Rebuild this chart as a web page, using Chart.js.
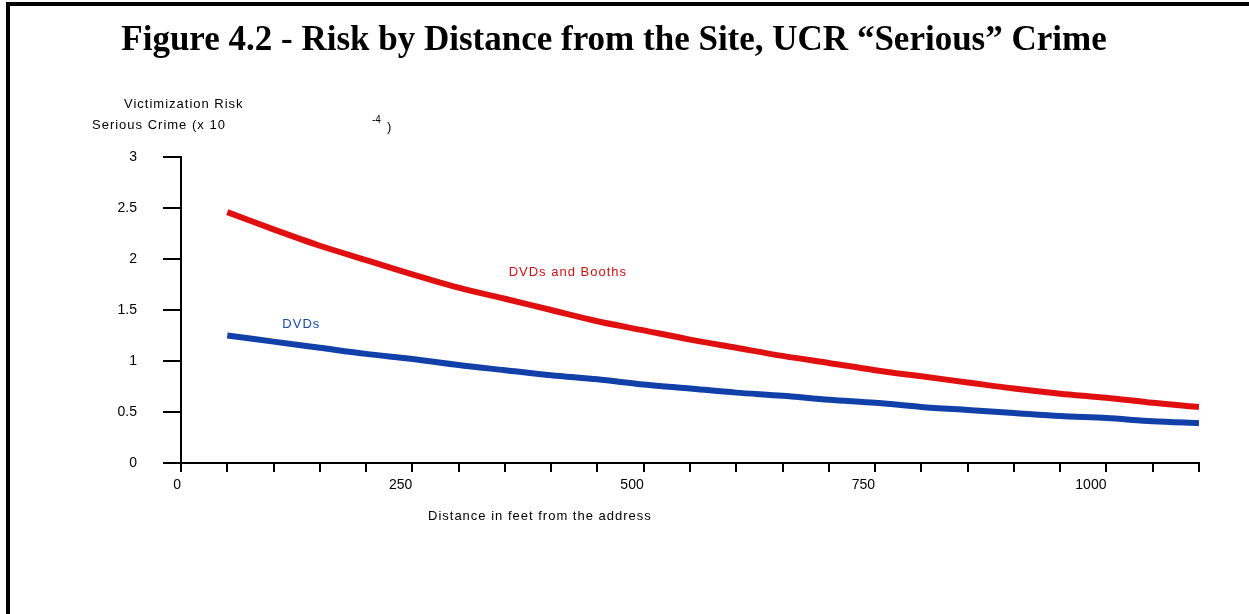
<!DOCTYPE html>
<html>
<head>
<meta charset="utf-8">
<script src="https://cdn.jsdelivr.net/npm/chart.js@4.4.0/dist/chart.umd.min.js"></script>
<style>
  html, body { margin: 0; padding: 0; background: #fff; }
  #wrap { position: relative; width: 1249px; height: 614px; }
  #frame { position: absolute; left: 6px; top: 2px; right: 0; bottom: 0;
           border-top: 4px solid #000; border-left: 4px solid #000; pointer-events: none; }
  canvas { position: absolute; left: 0; top: 0; }
</style>
</head>
<body>
<div id="wrap">
  <canvas id="myChart" width="1249" height="614"></canvas>
  <div id="frame"></div>
</div>
<script>
// distance from the address, feet
const distances = [50, 100, 150, 200, 250, 300, 350, 400, 450, 500, 550,
                   600, 650, 700, 750, 800, 850, 900, 950, 1000, 1050, 1100];
// victimization risk, serious crime (x 10^-4)
const dvdsBooths = [2.46, 2.29, 2.13, 1.99, 1.85, 1.72, 1.61, 1.50, 1.39, 1.30, 1.21,
                    1.13, 1.05, 0.98, 0.91, 0.85, 0.79, 0.73, 0.68, 0.64, 0.59, 0.55];
const dvds = [1.25, 1.19, 1.13, 1.07, 1.02, 0.96, 0.91, 0.86, 0.82, 0.77, 0.73,
              0.69, 0.66, 0.62, 0.59, 0.55, 0.52, 0.49, 0.46, 0.44, 0.41, 0.39];
const xLabels = [0, 250, 500, 750, 1000];
const yLabels = [0, 0.5, 1, 1.5, 2, 2.5, 3];

const ctx = document.getElementById("myChart");
const axisFont = { family: "Arial, 'Liberation Sans', sans-serif", size: 14 };
const smallFont = "13px Arial, 'Liberation Sans', sans-serif";

function toPoints(values) {
  return distances.map((d, i) => ({ x: d, y: values[i] }));
}

const textPlugin = {
  id: "figureText",
  afterDraw(chart) {
    const c = chart.ctx;
    const xs = chart.scales.x;
    const ys = chart.scales.y;
    c.save();
    c.fillStyle = "#000";
    c.textBaseline = "middle";

    c.font = "bold 35px 'Liberation Serif', 'Times New Roman', serif";
    c.textAlign = "center";
    c.fillText("Figure 4.2 - Risk by Distance from the Site, UCR \u201cSerious\u201d Crime", 614, 41);

    c.font = smallFont;
    c.letterSpacing = "1px";
    c.textAlign = "left";
    c.fillText("Victimization Risk", 124, 104);
    c.fillText("Serious Crime (x 10", 92, 125);
    c.fillText("Distance in feet from the address", 428, 516);
    c.letterSpacing = "0px";
    c.font = "10px Arial, 'Liberation Sans', sans-serif";
    c.fillText("-4", 372, 120);
    c.font = smallFont;
    c.fillText(")", 387, 127);

    c.letterSpacing = "1px";
    c.textAlign = "center";
    c.fillStyle = "#cc1111";
    c.fillText("DVDs and Booths", xs.getPixelForValue(418), ys.getPixelForValue(1.87));
    c.fillStyle = "#1a4aa8";
    c.fillText("DVDs", xs.getPixelForValue(130), ys.getPixelForValue(1.36));
    c.restore();
  }
};

new Chart(ctx, {
  type: "line",
  data: {
    datasets: [
      {
        label: "DVDs and Booths",
        data: toPoints(dvdsBooths),
        borderColor: "#e01010",
        borderWidth: 6,
        pointRadius: 0,
        tension: 0.3,
      },
      {
        label: "DVDs",
        data: toPoints(dvds),
        borderColor: "#1040a8",
        borderWidth: 6,
        pointRadius: 0,
        tension: 0.3,
      },
    ],
  },
  options: {
    responsive: false,
    animation: false,
    layout: { padding: { top: 157, right: 50, bottom: 0, left: 0 } },
    plugins: { legend: { display: false }, tooltip: { enabled: false } },
    scales: {
      x: {
        type: "linear",
        min: 0,
        max: 1100,
        afterFit: (s) => { s.height = 151; },
        afterBuildTicks: (s) => {
          s.ticks = [0].concat(distances).map((v) => ({ value: v }));
        },
        ticks: {
          autoSkip: false,
          maxRotation: 0,
          align: "end",
          padding: 5,
          color: "#000",
          font: axisFont,
          callback: (v) => (xLabels.includes(v) ? String(v) : ""),
        },
        grid: { drawOnChartArea: false, tickLength: 9, color: "#000", lineWidth: 2 },
        border: { color: "#000", width: 2 },
      },
      y: {
        min: 0,
        max: 3,
        afterFit: (s) => { s.width = 181; },
        afterBuildTicks: (s) => { s.ticks = yLabels.map((v) => ({ value: v })); },
        ticks: {
          padding: 26,
          color: "#000",
          font: axisFont,
          callback: (v) => String(v),
        },
        grid: { drawOnChartArea: false, tickLength: 18, color: "#000", lineWidth: 2 },
        border: { color: "#000", width: 2 },
      },
    },
  },
  plugins: [textPlugin],
});
</script>
</body>
</html>
